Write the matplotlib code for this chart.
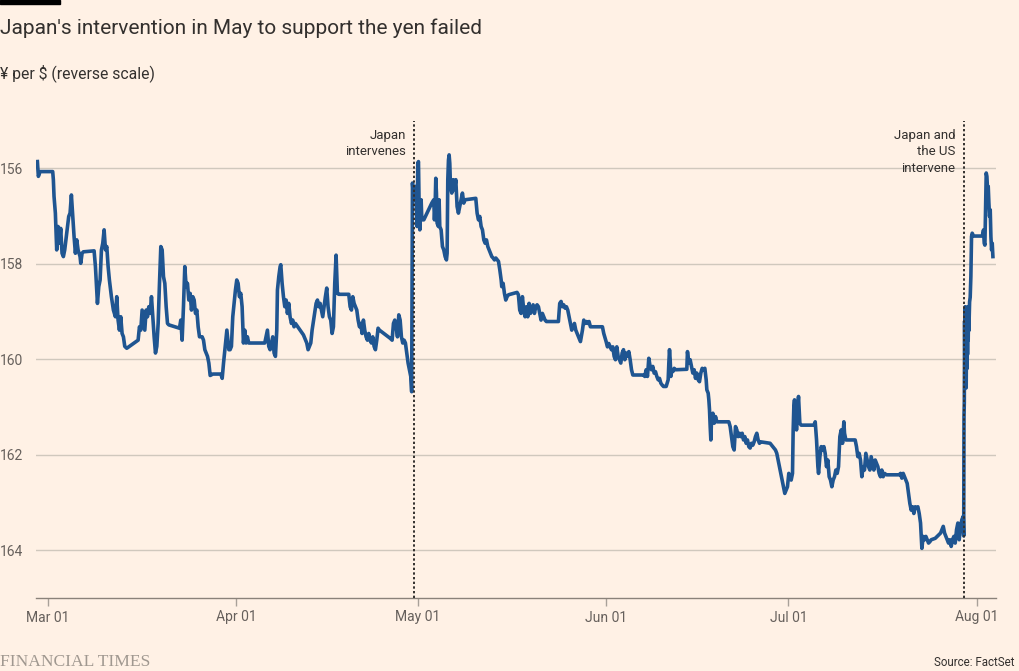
import numpy as np
import pandas as pd
import matplotlib
matplotlib.use("Agg")
import matplotlib.pyplot as plt
import matplotlib.dates as mdates

# ---------------- data (days after 2024-03-01, ¥ per $) ----------------
days_mar = [-1.70,-1.54,-1.26,0.82,0.93,1.04,1.26,1.48,1.70,1.92,2.14,2.36,2.58,2.80,3.13,3.46,3.68,3.90,4.12,4.34,4.56,4.78,5.00,5.33,5.44,5.66,5.88,7.64,7.86,8.08,8.19,8.41,8.63,8.85,9.07,9.29,9.51,9.73,9.95,10.16,10.49,10.82,11.15,11.37,11.59,11.81,12.03,12.25,12.47,12.69,13.02,14.89,15.11,15.33,15.55,15.77,15.99,16.21,16.43,16.65,16.87,17.09,17.31,17.53,17.75,17.97,18.19,18.41,18.63,18.85,19.07,19.29,19.51,19.73,19.95,21.70,21.92,22.14,22.36,22.58,22.80,23.02,23.24,23.46,23.68,23.90,24.12,24.34,24.56,24.78,25.00,25.44,25.66,25.88,26.32,26.54,26.76,27.20,28.52,28.74,28.96,29.18,29.51,29.84]
yen_mar = [155.86,156.17,156.07,156.07,156.24,156.59,156.94,157.71,157.22,157.57,157.26,157.78,157.85,157.71,157.36,157.01,156.94,156.56,157.01,157.43,157.78,157.50,157.71,157.85,157.99,157.78,157.75,157.73,158.06,158.55,158.83,158.48,158.34,157.71,157.57,157.29,157.71,157.64,158.06,158.34,158.69,158.97,159.11,158.69,159.18,159.39,159.11,159.46,159.53,159.73,159.77,159.60,159.32,159.39,158.97,159.18,159.39,158.97,159.11,158.90,159.04,158.69,159.11,159.53,159.87,159.73,159.25,158.41,157.64,157.71,158.27,158.41,158.90,159.25,159.28,159.35,159.18,159.60,158.90,158.06,158.48,158.41,158.76,158.62,158.97,158.69,158.76,159.04,158.97,159.32,159.53,159.53,159.60,159.80,159.94,160.08,160.34,160.31,160.31,160.40,160.08,159.80,159.39,159.80]

days_apr = [30.04,30.26,30.48,30.70,30.92,31.14,31.36,31.58,31.80,32.02,32.24,32.45,32.67,32.89,33.11,35.75,35.97,36.19,36.41,36.63,36.85,37.07,37.29,37.51,37.73,37.84,38.06,38.28,38.39,38.61,38.83,39.05,39.27,39.48,39.70,39.92,40.14,40.36,40.58,40.80,41.57,42.12,42.67,42.89,43.11,43.33,43.55,43.88,44.21,44.43,44.65,44.87,45.09,45.30,45.52,45.74,45.96,46.18,46.40,46.62,46.84,47.06,47.28,47.50,47.72,47.94,49.59,49.81,50.03,50.25,50.47,50.69,50.91,51.13,51.35,51.56,51.78,52.00,52.22,52.44,52.66,52.88,53.10,53.32,53.54,53.76,53.98,54.20,54.42,54.64,56.40,56.73,56.95,57.17,57.39,57.61,57.83,58.05,58.26,58.48,58.70,58.92,59.14,59.36,59.58,59.80,59.95]
yen_apr = [159.80,159.73,159.11,158.83,158.55,158.34,158.41,158.69,158.62,158.90,159.66,159.39,159.66,159.53,159.66,159.66,159.53,159.39,159.73,159.80,159.66,159.53,159.87,159.94,159.39,158.55,158.27,158.06,158.02,158.41,158.69,158.90,158.76,159.04,158.83,159.11,159.25,159.18,159.32,159.25,159.39,159.49,159.66,159.80,159.73,159.66,159.39,159.11,158.83,158.76,158.90,158.83,158.97,159.11,158.90,158.69,158.51,158.90,159.11,159.18,159.46,159.32,158.41,157.82,158.62,158.64,158.64,158.90,158.97,158.69,158.83,158.90,158.97,159.18,159.32,159.25,159.46,159.18,159.39,159.53,159.60,159.46,159.60,159.66,159.53,159.73,159.80,159.60,159.35,159.39,159.56,159.60,159.25,159.18,159.32,159.53,159.07,159.18,159.53,159.66,159.60,159.66,159.87,160.08,160.22,160.36,160.68]

days_may = [60.08,60.30,60.41,60.63,60.85,60.96,61.07,61.18,61.29,61.51,61.62,61.95,63.26,63.59,63.70,63.81,63.92,64.03,64.14,64.36,64.47,64.58,64.80,65.02,65.24,65.46,65.68,65.79,65.90,66.01,66.12,66.23,66.34,66.56,66.78,67.00,67.22,67.43,67.65,67.87,68.09,68.31,68.53,68.75,70.51,70.73,70.95,71.17,71.39,71.61,71.83,72.05,72.27,72.49,72.71,72.93,73.15,73.37,73.59,73.81,74.25,74.47,74.69,74.79,75.01,75.23,75.45,75.67,75.89,76.44,77.31,77.53,77.75,77.97,78.19,78.41,78.63,78.85,79.07,79.29,79.51,79.73,79.95,80.17,80.39,80.61,80.83,81.04,81.26,81.48,81.70,81.92,82.14,84.12,84.34,84.56,84.78,85.00,85.22,85.44,85.66,85.88,86.10,86.32,86.54,86.76,86.98,87.20,87.42,87.75,88.08,88.30,88.52,88.74,88.96,89.17,89.39,91.37,91.59]
yen_may = [156.31,156.66,156.45,156.38,157.22,155.90,155.86,156.80,157.29,156.66,157.08,157.08,156.73,156.66,157.08,156.80,156.21,156.52,157.15,157.22,156.66,157.22,157.29,157.64,157.71,157.85,157.92,157.78,156.24,155.83,155.72,155.90,156.38,156.52,156.24,156.45,156.24,156.80,156.94,156.80,156.66,156.52,156.73,156.66,156.63,156.94,157.08,157.01,157.22,157.29,157.50,157.57,157.50,157.64,157.71,157.78,157.85,157.88,157.92,157.88,157.95,158.13,158.34,158.48,158.41,158.62,158.76,158.69,158.65,158.63,158.60,158.65,158.97,159.04,158.69,158.97,159.11,158.90,159.11,158.83,159.04,158.97,158.86,159.04,158.90,158.86,158.90,159.04,159.18,159.04,159.11,159.18,159.21,159.21,158.83,158.79,158.90,158.86,158.93,158.90,158.97,159.11,159.25,159.39,159.32,159.25,159.39,159.46,159.53,159.63,159.39,159.18,159.25,159.21,159.25,159.21,159.32,159.32,159.46]

days_jun = [91.98,92.20,92.42,92.64,92.86,93.08,93.30,93.52,93.74,93.96,94.18,94.40,94.62,94.84,95.06,95.28,95.50,95.72,95.94,96.16,96.38,98.13,98.35,98.57,98.79,99.01,99.23,99.45,99.67,99.89,100.11,100.33,100.55,100.77,100.99,101.21,101.43,101.87,102.20,102.31,102.42,102.53,102.64,102.75,102.97,103.19,103.41,105.27,105.38,105.60,105.82,106.04,106.26,106.48,106.70,106.92,107.14,107.36,107.58,107.80,108.02,108.24,108.46,108.57,108.79,108.90,109.01,109.12,109.23,109.34,109.56,109.78,110.00,110.22,112.19,112.41,112.63,112.85,113.07,113.29,113.51,113.73,113.95,114.17,114.39,114.61,114.83,115.04,115.26,115.48,115.70,115.92,116.14,116.36,116.58,116.80,117.02,117.24,117.46,118.99,119.43,119.87,120.09,120.31,120.53,120.75,120.97,121.19,121.41,121.63,121.85,122.07]
yen_jun = [159.63,159.74,159.67,159.74,159.80,159.74,159.94,160.01,159.74,159.94,160.01,160.08,159.87,159.80,160.01,159.87,159.94,159.84,160.01,160.22,160.33,160.33,160.36,160.22,160.36,159.98,160.15,160.22,160.15,160.29,160.26,160.36,160.43,160.40,160.50,160.54,160.57,160.57,160.43,160.08,159.80,160.01,160.36,160.22,160.26,160.19,160.22,160.21,159.84,160.08,160.01,160.15,160.29,160.22,160.40,160.29,160.43,160.47,160.29,160.19,160.22,160.19,160.43,160.64,160.71,160.85,161.06,161.41,161.69,161.27,161.13,161.34,161.20,161.31,161.31,161.41,161.62,161.83,161.90,161.41,161.48,161.62,161.55,161.62,161.55,161.69,161.62,161.76,161.69,161.83,161.86,161.76,161.80,161.73,161.62,161.55,161.69,161.76,161.73,161.76,161.83,161.90,161.97,162.11,162.25,162.39,162.53,162.67,162.81,162.74,162.67,162.39]

days_jul = [122.24,122.46,122.68,122.79,122.90,123.01,123.12,123.23,123.34,123.45,123.67,123.78,123.89,124.11,126.20,126.42,126.64,126.86,126.97,127.19,127.41,127.63,127.85,128.06,128.28,128.50,128.72,128.94,129.16,129.38,129.60,129.82,130.04,130.26,130.48,130.70,130.92,131.14,131.25,131.47,133.00,133.22,133.44,133.66,133.88,134.10,134.32,134.54,134.76,134.98,135.20,135.42,135.64,135.86,136.08,136.30,136.52,136.74,136.95,137.17,137.39,137.61,137.83,138.16,140.25,140.47,140.69,140.91,141.13,141.35,141.57,141.79,142.01,142.23,142.45,142.67,142.89,143.11,143.33,143.55,143.77,143.99,144.21,144.43,144.65,144.87,145.09,145.31,145.53,146.19,147.07,147.29,147.51,147.73,147.95,148.17,148.38,148.60,148.82,149.04,149.26,149.48,149.70,149.92,150.14,150.36,150.58,150.80]
yen_jul = [162.46,162.53,162.39,161.48,160.99,160.85,161.27,161.06,161.48,161.13,160.78,161.06,161.34,161.38,161.38,161.31,161.69,162.25,162.39,162.04,161.83,161.90,161.83,161.97,162.25,162.11,162.46,162.53,162.67,162.53,162.46,162.32,162.39,162.25,161.62,161.48,161.76,161.31,161.55,161.69,161.69,161.83,162.04,161.97,162.11,162.46,162.25,162.32,161.97,162.11,162.25,162.32,162.04,162.18,162.32,162.11,162.18,162.25,162.39,162.46,162.32,162.46,162.39,162.42,162.42,162.39,162.49,162.39,162.46,162.53,162.60,162.81,163.02,163.16,163.09,163.23,163.09,163.12,163.09,163.23,163.43,163.96,163.71,163.78,163.71,163.78,163.85,163.82,163.78,163.75,163.64,163.57,163.50,163.64,163.71,163.78,163.85,163.78,163.92,163.78,163.71,163.85,163.57,163.43,163.78,163.50,163.36,163.29]

days_aug = [150.88,150.93,150.98,151.03,151.08,151.13,151.18,151.23,151.29,151.35,151.40,151.46,151.51,151.57,151.62,151.68,151.73,151.85,151.95,152.06,152.17,152.28,152.50,153.93,154.15,154.26,154.37,154.48,154.59,154.70,154.81,154.92,155.03,155.14,155.25,155.36,155.47,155.58,155.69]
yen_aug = [163.70,161.20,160.90,159.20,160.50,158.90,160.30,159.00,160.60,159.30,160.20,159.00,159.90,158.90,159.60,159.00,159.40,158.80,158.70,158.27,157.43,157.36,157.42,157.42,157.29,157.57,157.61,156.87,156.10,156.17,156.45,156.38,156.73,157.01,156.87,157.43,157.71,157.57,157.85]

intervention_days = [60.35, 150.90]
intervention_labels = ["Japan\nintervenes", "Japan and\nthe US\nintervene"]
y_ticks = [156, 158, 160, 162, 164]
month_ticks = ["2024-03-01", "2024-04-01", "2024-05-01", "2024-06-01", "2024-07-01", "2024-08-01"]

title = "Japan's intervention in May to support the yen failed"
subtitle = "¥ per $ (reverse scale)"
source = "Source: FactSet"

# ---------------- assemble ----------------
days = np.array(days_mar + days_apr + days_may + days_jun + days_jul + days_aug)
yen = np.array(yen_mar + yen_apr + yen_may + yen_jun + yen_jul + yen_aug)
assert len(days) == len(yen)
base = pd.Timestamp("2024-03-01")
dates = base + pd.to_timedelta(days, unit="D")

BG = "#FFF1E5"
LINE = "#1F5591"
TXT = "#33302E"
SUB = "#66605C"
GRID = "#D0C8BD"

plt.rcParams["font.family"] = ["Roboto", "DejaVu Sans"]

fig = plt.figure(figsize=(10.2, 6.71), dpi=100, facecolor=BG)
ax = fig.add_axes([36/1020, 1 - 598/671, (996-36)/1020, (598-120.5)/671])
ax.set_facecolor(BG)

ax.plot(dates, yen, color=LINE, lw=2.6, solid_joinstyle="round", zorder=3)

ax.set_ylim(165, 155)
ax.set_xlim(base + pd.Timedelta(days=-1.93), base + pd.Timedelta(days=156.2))
ax.set_yticks(y_ticks)
ax.set_yticklabels([str(v) for v in y_ticks])
ax.yaxis.grid(True, color=GRID, lw=1)
ax.set_axisbelow(True)

ax.set_xticks([pd.Timestamp(m) for m in month_ticks])
ax.xaxis.set_major_formatter(mdates.DateFormatter("%b %d"))

for s in ["top", "right", "left"]:
    ax.spines[s].set_visible(False)
ax.spines["bottom"].set_color("#8A827A")
ax.spines["bottom"].set_linewidth(1.0)

ax.tick_params(axis="y", length=0, pad=7, labelsize=10, labelcolor=SUB)
for lab in ax.get_yticklabels():
    lab.set_horizontalalignment("left")
ax.tick_params(axis="y", pad=26)
ax.tick_params(axis="x", length=6, width=1, color="#A9A199", pad=3,
               labelsize=10, labelcolor=SUB)

for d, lab in zip(intervention_days, intervention_labels):
    t = base + pd.Timedelta(days=d)
    ax.axvline(t, color=TXT, lw=1.4, ls=(0, (1.2, 1.2)), zorder=4)
    ax.annotate(lab, xy=(t, 155), xytext=(-6, -6), textcoords="offset points",
                ha="right", va="top", fontsize=9.5, color=TXT, linespacing=1.35)

# header / footer
fig.patches.append(plt.Rectangle((0, 1 - 4/671), 60/1020, 4/671,
                                 transform=fig.transFigure, color="#000000"))
fig.text(0, 1 - 28/671, title, fontsize=15, color=TXT, va="center", ha="left")
fig.text(0, 1 - 73/671, subtitle, fontsize=11.3, color=TXT, va="center", ha="left")
fig.text(0, 1 - 662/671, "FINANCIAL TIMES", fontsize=12.6, color="#A09890",
         family=["Liberation Serif", "DejaVu Serif"], va="center", ha="left")
fig.text(1015/1020, 1 - 663/671, source, fontsize=8.3, color=TXT, va="center", ha="right")

fig.savefig("out.png", dpi=100, facecolor=BG)
